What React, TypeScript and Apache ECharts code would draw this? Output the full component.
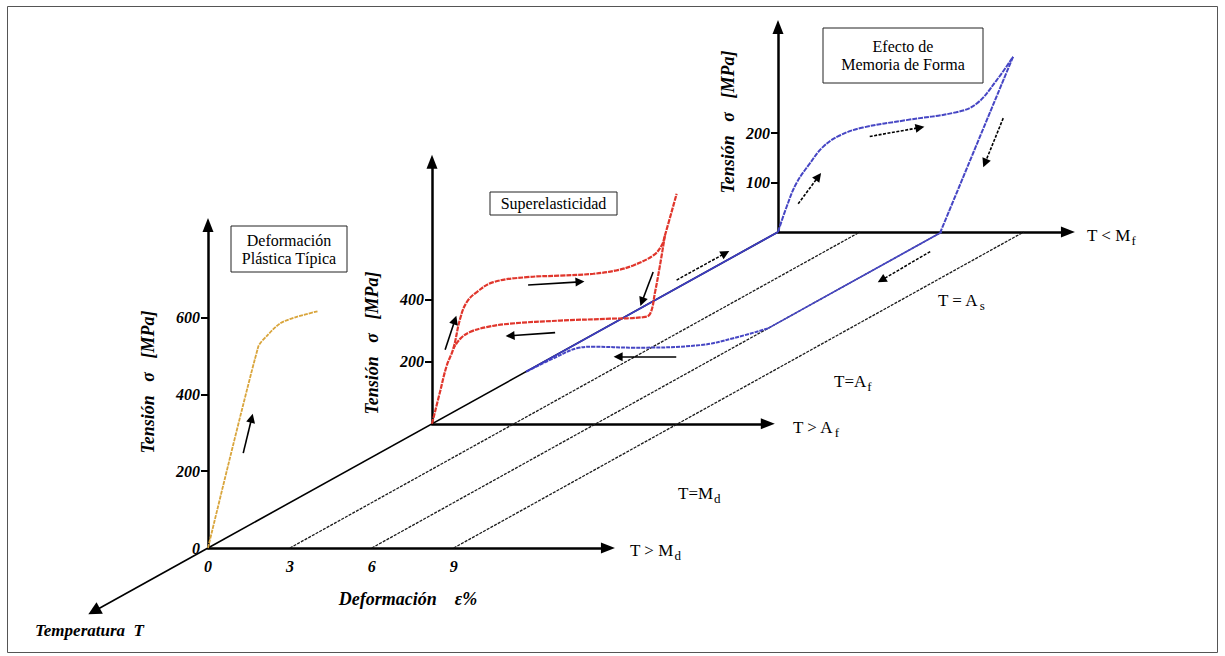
import React, { useEffect, useRef } from "react";
import * as echarts from "echarts";

// ---------------- data ----------------
// strain tick labels (Deformación ε %)
const strainLabels = [0, 3, 6, 9];
// stress tick values per plane (Tensión σ MPa)
const plasticTicks = [200, 400, 600];
const plasticLabels = [0, 200, 400, 600];
const superTicks = [200, 400];
const memoryTicks = [100, 200];

// T > Md : deformación plástica típica  [ε %, σ MPa]
const plasticCurve = [[0, 0], [1.84, 524], [2.15, 552], [2.64, 585], [3.25, 602], [4.04, 617]];
const plasticArrows = [[[1.29, 247], [1.6, 338]]];

// T > Af : superelasticidad
const superLoading = [
  [0, 0], [0.29, 102], [0.54, 188], [0.78, 242], [1.03, 339], [1.27, 392], [1.64, 425],
  [2.25, 457], [3.47, 473], [4.69, 478], [5.91, 484], [6.76, 495], [7.37, 511],
  [8.1, 543], [8.41, 575], [8.53, 607], [8.96, 742],
];
const superUnloading = [
  [8.53, 607], [8.35, 511], [8.17, 425], [7.99, 355], [7.74, 344], [6.52, 339], [4.69, 333],
  [2.86, 323], [2.0, 312], [1.39, 296], [1.03, 274], [0.78, 242],
];
const superArrows = [
  [[0.48, 239], [0.84, 335]],
  [[3.52, 448], [5.42, 458]],
  [[4.51, 294], [2.86, 284]],
  [[8.1, 490], [7.69, 394]],
];

// T < Mf : efecto de memoria de forma
const memoryLoading = [
  [0, 0], [0.31, 50], [0.67, 98], [1.16, 138], [1.65, 172], [2.26, 195], [3.11, 211],
  [4.7, 226], [6.53, 242], [7.27, 259], [8.0, 306], [8.61, 354],
];
const memoryUnloading = [[8.61, 354], [5.95, 0]];
const memoryArrows = [
  [[0.74, 57], [1.48, 112]],
  [[3.36, 193], [5.2, 211]],
  [[8.25, 230], [7.58, 139]],
];

// floor plane (σ = 0): [ε %, temperature depth] ; depth 0 = T > Md plane, 1 = T < Mf plane
const floorStrainLines = [3, 6, 9];
const heatingStraight = [[6, 1], [6, 0.695]];
const heatingRecovery = [
  [6, 0.695], [5.38, 0.664], [4.62, 0.642], [2.35, 0.634], [0.81, 0.637], [0.31, 0.632],
  [0.14, 0.605], [0, 0.558],
];
const coolingPath = [[0, 0.558], [0, 1]];
const floorArrows = [
  { pts: [[-0.54, 0.848], [-0.53, 0.933]], dashed: true },
  { pts: [[6.87, 0.938], [6.97, 0.848]], dashed: true },
  { pts: [[4.52, 0.605], [2.39, 0.605]], dashed: false },
];

// ---------------- layout ----------------
const W = 1225;
const H = 656;
const EPS_PX = 27.3; // px per strain %
const ORIGIN = [208, 548]; // origin of T > Md plane
const DEPTH_VEC = [570, -316]; // screen shift from T > Md plane to T < Mf plane
const planes = [
  { depth: 0, sigPx: 0.384, xMax: 14.65, yMax: 841 },
  { depth: 0.393, sigPx: 0.31, xMax: 12.3, yMax: 845 },
  { depth: 1, sigPx: 0.495, xMax: 10.62, yMax: 414 },
];
const FONT = "Liberation Serif";
const RED = "#e0362c";
const BLUE = "#4646c4";
const ORANGE = "#d9a53c";

const planeOrigin = (d: number) => [ORIGIN[0] + d * DEPTH_VEC[0], ORIGIN[1] + d * DEPTH_VEC[1]];
// floor (ε, depth) -> floor grid coordinates (strain units, md-stress units)
const floorPt = (p: number[]) => [p[0] + (p[1] * DEPTH_VEC[0]) / EPS_PX, (-p[1] * DEPTH_VEC[1]) / planes[0].sigPx];

const labelStyle = { fontFamily: FONT, fontWeight: "bold" as const, fontStyle: "italic" as const, fontSize: 16, color: "#000" };

function buildOption() {
  const grids: any[] = planes.map((p) => {
    const [ox, oy] = planeOrigin(p.depth);
    return {
      left: ox,
      top: oy - p.yMax * p.sigPx,
      width: p.xMax * EPS_PX,
      height: p.yMax * p.sigPx,
      containLabel: false,
      outerBoundsMode: "none",
    };
  });
  grids.push({ left: 0, top: 0, width: W, height: H, containLabel: false, outerBoundsMode: "none" });

  const axisLine = {
    show: true,
    onZero: false,
    lineStyle: { color: "#000", width: 2.5 },
    symbol: ["none", "triangle"],
    symbolSize: [11, 14],
  };

  const xAxes: any[] = planes.map((p, i) => ({
    gridIndex: i,
    type: "value",
    min: 0,
    max: p.xMax,
    axisLine,
    axisTick: { show: false },
    splitLine: { show: false },
    axisLabel: i === 0 ? { ...labelStyle, customValues: strainLabels, margin: 10 } : { show: false },
    ...(i === 0
      ? {
          name: "Deformación    ε%",
          nameLocation: "middle",
          nameGap: 42,
          nameTextStyle: { ...labelStyle, fontSize: 18 },
        }
      : {}),
  }));
  xAxes.push({
    gridIndex: 3,
    type: "value",
    show: false,
    min: -ORIGIN[0] / EPS_PX,
    max: (W - ORIGIN[0]) / EPS_PX,
  });

  const tickSets = [plasticTicks, superTicks, memoryTicks];
  const labelSets = [plasticLabels, superTicks, memoryTicks];
  const yAxes: any[] = planes.map((p, i) => ({
    gridIndex: i,
    type: "value",
    min: 0,
    max: p.yMax,
    axisLine,
    axisTick: { show: true, customValues: tickSets[i], length: 7, lineStyle: { color: "#000", width: 2 } },
    splitLine: { show: false },
    axisLabel: { ...labelStyle, customValues: labelSets[i], margin: 8 },
  }));
  yAxes.push({
    gridIndex: 3,
    type: "value",
    show: false,
    min: -(H - ORIGIN[1]) / planes[0].sigPx,
    max: ORIGIN[1] / planes[0].sigPx,
  });

  const curve = (idx: number, data: number[][], color: string, width = 2, dashed: any = [5, 1], smooth: any = false) => ({
    type: "line",
    xAxisIndex: idx,
    yAxisIndex: idx,
    data,
    symbol: "none",
    showSymbol: false,
    clip: false,
    silent: true,
    smooth,
    lineStyle: { color, width, type: dashed },
    z: 3,
  });

  const arrows = (idx: number, list: number[][][], dashed = false, width = 1.6) => ({
    type: "lines",
    coordinateSystem: "cartesian2d",
    xAxisIndex: idx,
    yAxisIndex: idx,
    clip: false,
    silent: true,
    symbol: ["none", "triangle"],
    symbolSize: 9,
    lineStyle: { color: "#000", width, type: dashed ? [3, 1.5] : "solid", opacity: 1, curveness: 0 },
    data: list.map((c) => ({ coords: c })),
    z: 4,
  });

  const series: any[] = [];
  // floor: temperature axis & parallel strain lines
  series.push(curve(3, [floorPt([0, 0]), floorPt([0, 1])], "#000", 1.6, "solid"));
  series.push({
    type: "lines",
    coordinateSystem: "cartesian2d",
    xAxisIndex: 3,
    yAxisIndex: 3,
    clip: false,
    silent: true,
    symbol: ["none", "triangle"],
    symbolSize: [9, 13],
    lineStyle: { color: "#000", width: 1.6, opacity: 1 },
    data: [{ coords: [floorPt([0, 0]), floorPt([0, -0.2])] }],
  });
  floorStrainLines.forEach((e) => {
    series.push(curve(3, [floorPt([e, 0]), floorPt([e, 1])], "#1a1a1a", 1.3, [3, 1.2]));
  });
  series.push(curve(3, heatingStraight.map(floorPt), BLUE, 1.7, "solid"));
  series.push(curve(3, heatingRecovery.map(floorPt), BLUE, 2, [4, 1], 0.4));
  series.push(curve(3, coolingPath.map(floorPt), "#3c3cc0", 1.8, "solid"));
  floorArrows.forEach((a) => series.push(arrows(3, [a.pts.map(floorPt)], a.dashed, 1.5)));

  // planes
  series.push(curve(0, plasticCurve, ORANGE, 1.8, [4, 1], 0.25));
  series.push(arrows(0, plasticArrows));
  series.push(curve(1, superLoading, RED, 2.2, [5, 1], 0.4));
  series.push(curve(1, superUnloading, RED, 2.2, [5, 1], 0.4));
  series.push(arrows(1, superArrows));
  series.push(curve(2, memoryLoading, BLUE, 2, [5, 1], 0.4));
  series.push(curve(2, memoryUnloading, BLUE, 2, [5, 1]));
  series.push(arrows(2, memoryArrows, true));

  const serif = { fontFamily: FONT, fill: "#000" };
  const rotName = (x: number, y: number) => ({
    type: "text",
    x,
    y,
    rotation: Math.PI / 2,
    style: {
      ...serif,
      text: "Tensión   σ   [MPa]",
      fontSize: 18,
      fontWeight: "bold",
      fontStyle: "italic",
      align: "center",
      verticalAlign: "middle",
    },
  });
  const sub = (x: number, y: number, main: string, s: string) => ({
    type: "text",
    x,
    y,
    style: {
      text: `{a|${main}}{s|${s}}`,
      align: "left",
      verticalAlign: "middle",
      rich: {
        a: { fontFamily: FONT, fontSize: 17, color: "#000" },
        s: { fontFamily: FONT, fontSize: 13, color: "#000", padding: [10, 0, 0, 1] },
      },
    },
  });
  const box = (x: number, y: number, w: number, h: number, text: string) => ({
    type: "group",
    children: [
      { type: "rect", shape: { x, y, width: w, height: h }, style: { fill: "#fff", stroke: "#222", lineWidth: 1 } },
      {
        type: "text",
        x: x + w / 2,
        y: y + h / 2,
        style: { ...serif, text, fontSize: 16, lineHeight: 18, align: "center", verticalAlign: "middle" },
      },
    ],
  });

  const graphic: any[] = [
    { type: "rect", shape: { x: 7.5, y: 6.5, width: 1210, height: 646 }, style: { fill: "none", stroke: "#555", lineWidth: 1 } },
    box(231, 226, 116, 46, "Deformación\nPlástica Típica"),
    box(490, 192, 127, 23, "Superelasticidad"),
    box(823, 28, 160, 55, "Efecto de\nMemoria de Forma"),
    rotName(148, 382),
    rotName(372, 343),
    rotName(728, 122),
    sub(630, 550, "T > M", "d"),
    sub(793, 427, "T > A", "f"),
    sub(1087, 235, "T < M", "f"),
    sub(938, 300, "T = A", "s"),
    sub(834, 381, "T=A", "f"),
    sub(678, 493, "T=M", "d"),
    {
      type: "text",
      x: 35,
      y: 630,
      style: { ...serif, text: "Temperatura  T", fontSize: 17, fontWeight: "bold", fontStyle: "italic", verticalAlign: "middle" },
    },
  ];

  return {
    animation: false,
    backgroundColor: "#fff",
    grid: grids,
    xAxis: xAxes,
    yAxis: yAxes,
    series,
    graphic,
  };
}

export default function App() {
  const ref = useRef<HTMLDivElement>(null);
  useEffect(() => {
    const chart = echarts.init(ref.current!, null, { renderer: "svg" });
    chart.setOption(buildOption() as any);
    return () => chart.dispose();
  }, []);
  return (
    <div
      ref={ref}
      style={{ position: "fixed", left: 0, top: 0, width: W, height: H, background: "#fff" }}
    />
  );
}
